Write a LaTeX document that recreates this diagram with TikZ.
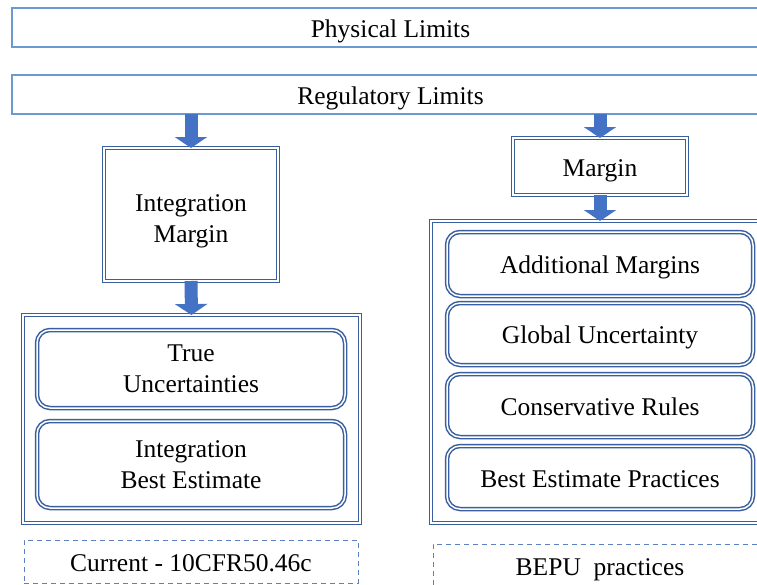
\documentclass[tikz,border=0pt]{standalone}
\usepackage{fontspec}
\setmainfont{Liberation Serif}
\usetikzlibrary{arrows.meta}
\definecolor{limitcol}{HTML}{6A9AD0}
\definecolor{boxcol}{HTML}{3A5F9E}
\definecolor{notecol}{HTML}{5B7FBF}
\definecolor{arrowcol}{HTML}{4472C4}
\tikzset{
  every node/.style={font=\fontsize{25.5}{31}\selectfont, align=center, inner sep=0pt, outer sep=0pt},
  oneline/.style={text height=24.5pt, text depth=5.5pt},
  limitbox/.style={oneline, draw=limitcol, line width=1.4pt},
  dblbox/.style={draw=boxcol, double, line width=1.5pt, double distance=1.5pt},
  roundbox/.style={dblbox, rounded corners=13pt},
  notebox/.style={oneline, draw=notecol, dashed, line width=1pt, dash pattern=on 5pt off 4pt},
  flowarrow/.style={arrowcol, line width=13pt, -{Triangle[width=32pt,length=11pt]}}
}

\begin{document}
\begin{tikzpicture}[x=1pt,y=-1pt]
  \useasboundingbox (0,0) rectangle (757,584);
  \clip (0,0) rectangle (757,584);

  % limits across the top
  \node[limitbox, minimum width=757pt, minimum height=39pt] (phys) at (390.5,27.5) {Physical Limits};
  \node[limitbox, minimum width=757pt, minimum height=39pt] (reg) at (390.5,94.5) {Regulatory Limits};

  % current practice (left)
  \node[dblbox, minimum width=174pt, minimum height=133pt] (im) at (191,214.5) {\rule{0pt}{31pt}Integration\\Margin};
  \node[dblbox, minimum width=337pt, minimum height=208pt] (curbox) at (191.5,419) {};
  \node[roundbox, minimum width=308pt, minimum height=78pt] (tu) at (191,369) {True\\Uncertainties};
  \node[roundbox, minimum width=308pt, minimum height=87pt] (ibe) at (191,464.5) {Integration\\Best Estimate};
  \node[notebox, minimum width=334pt, minimum height=43pt] (curnote) at (191,561.5) {Current - 10CFR50.46c};

  % BEPU (right)
  \node[dblbox, oneline, minimum width=174pt, minimum height=57pt] (mg) at (600,166.5) {Margin};
  \node[dblbox, minimum width=338pt, minimum height=302pt] (bepubox) at (600,372) {};
  \node[roundbox, oneline, minimum width=306pt, minimum height=64pt] (am) at (600,264) {Additional Margins};
  \node[roundbox, oneline, minimum width=306pt, minimum height=62pt] (gu) at (600,334) {Global Uncertainty};
  \node[roundbox, oneline, minimum width=306pt, minimum height=63pt] (cr) at (600,405.5) {Conservative Rules};
  \node[roundbox, oneline, minimum width=306pt, minimum height=63pt] (bep) at (600,477.5) {Best Estimate Practices};
  \node[notebox, minimum width=334pt, minimum height=43pt] (bepunote) at (600,565.5) {BEPU\ \ practices};

  % arrows
  \draw[flowarrow] (reg.south -| im.north) -- (im.north);
  \draw[flowarrow] (im.south) -- (curbox.north);
  \draw[flowarrow] (reg.south -| mg.north) -- (mg.north);
  \draw[flowarrow] (mg.south) -- (bepubox.north);
\end{tikzpicture}
\end{document}
